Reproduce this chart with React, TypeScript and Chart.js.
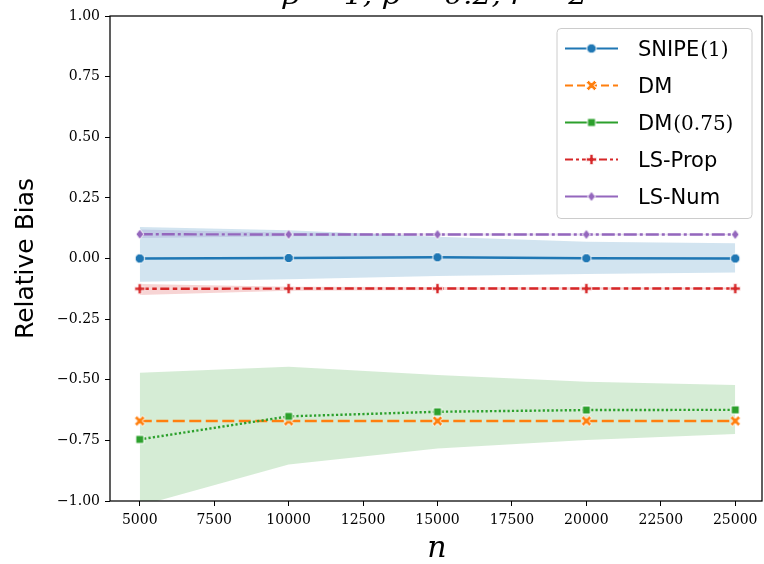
import React, { useEffect, useRef } from "react";
import { Chart, registerables } from "chart.js";

Chart.register(...registerables);

// ---------- data ----------
const nValues = [5000, 10000, 15000, 20000, 25000];
const xTicks = [5000, 7500, 10000, 12500, 15000, 17500, 20000, 22500, 25000];
const yTicks = [-1, -0.75, -0.5, -0.25, 0, 0.25, 0.5, 0.75, 1];
const seriesNames = ["SNIPE(1)", "DM", "DM(0.75)", "LS-Prop", "LS-Num"];
const titleText = "β = 1, p = 0.2, r = 2";
const xLabel = "n";
const yLabel = "Relative Bias";

const snipe = [0.0, 0.002, 0.005, 0.001, 0.0];
const snipeLow = [-0.096, -0.086, -0.072, -0.064, -0.058];
const snipeHigh = [0.13, 0.117, 0.09, 0.069, 0.063];

const dm = [-0.67, -0.67, -0.67, -0.67, -0.67];

const dm075 = [-0.746, -0.651, -0.632, -0.625, -0.624];
const dm075Low = [-1.02, -0.849, -0.783, -0.748, -0.724];
const dm075High = [-0.471, -0.446, -0.48, -0.508, -0.522];

const lsProp = [-0.125, -0.124, -0.124, -0.124, -0.124];
const lsPropLow = [-0.15, -0.133, -0.13, -0.129, -0.128];
const lsPropHigh = [-0.105, -0.116, -0.118, -0.119, -0.12];

const lsNum = [0.1, 0.099, 0.099, 0.099, 0.099];
const lsNumLow = [0.085, 0.092, 0.094, 0.095, 0.096];
const lsNumHigh = [0.12, 0.106, 0.104, 0.103, 0.102];

// ---------- styles ----------
const COLORS = ["#1f77b4", "#ff7f0e", "#2ca02c", "#d62728", "#9467bd"];
const DASHES: number[][] = [[], [12, 4.5], [2.2, 2.2], [9, 3.5, 4.5, 3.5], [13, 3, 3, 3]];
const LEGEND_DASHES: number[][] = [[], [8, 4], [], [8, 3, 3, 3], []];
const MARKERS = ["circle", "x", "square", "plus", "diamond"];
const MARKER_SIZES = [9.5, 11, 8, 10.5, 10];

function rgba(hex: string, a: number) {
  const n = parseInt(hex.slice(1), 16);
  return `rgba(${(n >> 16) & 255},${(n >> 8) & 255},${n & 255},${a})`;
}

function crossPoly(ctx: CanvasRenderingContext2D, r: number, a: number, rot: number) {
  const pts = [
    [-a, -1], [a, -1], [a, -a], [1, -a], [1, a], [a, a],
    [a, 1], [-a, 1], [-a, a], [-1, a], [-1, -a], [-a, -a],
  ];
  const c = Math.cos(rot), s = Math.sin(rot);
  pts.forEach(([px, py], i) => {
    const x = (px * c - py * s) * r;
    const y = (px * s + py * c) * r;
    if (i) ctx.lineTo(x, y);
    else ctx.moveTo(x, y);
  });
  ctx.closePath();
}

function makeMarker(kind: string, color: string, size: number) {
  const c = document.createElement("canvas");
  const dim = Math.ceil(size + 4);
  c.width = dim;
  c.height = dim;
  const ctx = c.getContext("2d")!;
  ctx.translate(dim / 2, dim / 2);
  const r = size / 2;
  ctx.beginPath();
  if (kind === "circle") ctx.arc(0, 0, r, 0, Math.PI * 2);
  else if (kind === "square") ctx.rect(-r, -r, 2 * r, 2 * r);
  else if (kind === "diamond") {
    ctx.moveTo(0, -r);
    ctx.lineTo(r * 0.8, 0);
    ctx.lineTo(0, r);
    ctx.lineTo(-r * 0.8, 0);
    ctx.closePath();
  } else if (kind === "plus") crossPoly(ctx, r, 0.32, 0);
  else crossPoly(ctx, r * 1.05, 0.3, Math.PI / 4);
  ctx.fillStyle = color;
  ctx.fill();
  ctx.strokeStyle = "#ffffff";
  ctx.lineWidth = 1;
  ctx.stroke();
  return c;
}

export default function App() {
  const ref = useRef<HTMLCanvasElement>(null);

  useEffect(() => {
    const canvas = ref.current!;
    const markers = MARKERS.map((m, i) => makeMarker(m, COLORS[i], MARKER_SIZES[i]));
    const series = [snipe, dm, dm075, lsProp, lsNum];
    const bands: [number[], number[], number][] = [
      [snipeLow, snipeHigh, 0],
      [dm075Low, dm075High, 2],
      [lsPropLow, lsPropHigh, 3],
      [lsNumLow, lsNumHigh, 4],
    ];
    const pts = (arr: number[]) => nValues.map((x, i) => ({ x, y: arr[i] }));

    const datasets: any[] = [];
    series.forEach((vals, i) =>
      datasets.push({
        label: seriesNames[i],
        data: pts(vals),
        borderColor: COLORS[i],
        backgroundColor: COLORS[i],
        borderWidth: 2.4,
        borderDash: DASHES[i],
        borderCapStyle: "butt",
        pointStyle: markers[i],
        pointRadius: 5,
        pointHoverRadius: 5,
        fill: false,
        tension: 0,
        order: 10 - i,
      })
    );
    bands.forEach(([lo, hi, ci]) => {
      datasets.push({
        label: "_lo",
        data: pts(lo),
        borderColor: "rgba(0,0,0,0)",
        borderWidth: 0,
        pointRadius: 0,
        fill: false,
        order: 50,
      });
      datasets.push({
        label: "_hi",
        data: pts(hi),
        borderColor: "rgba(0,0,0,0)",
        borderWidth: 0,
        pointRadius: 0,
        fill: "-1",
        backgroundColor: rgba(COLORS[ci], 0.2),
        order: 50,
      });
    });

    const textPlugin = {
      id: "texts",
      afterDraw(chart: any) {
        const { ctx, chartArea: a } = chart;
        ctx.save();
        // frame
        ctx.strokeStyle = "#000";
        ctx.lineWidth = 1.25;
        ctx.setLineDash([]);
        ctx.strokeRect(a.left, a.top, a.right - a.left, a.bottom - a.top);

        ctx.fillStyle = "#000";
        // title (mostly clipped at top, as in the reference)
        ctx.save();
        ctx.font = 'italic 24px "DejaVu Serif"';
        const tw = ctx.measureText(titleText).width;
        ctx.translate(435, 4);
        ctx.scale(304 / tw, 1);
        ctx.textAlign = "center";
        ctx.textBaseline = "alphabetic";
        ctx.fillText(titleText, 0, 0);
        ctx.restore();

        // y label
        ctx.save();
        ctx.font = '25px "DejaVu Sans"';
        ctx.translate(33, (a.top + a.bottom) / 2);
        ctx.rotate(-Math.PI / 2);
        ctx.textAlign = "center";
        ctx.textBaseline = "alphabetic";
        ctx.fillText(yLabel, 0, 0);
        ctx.restore();

        // x label
        ctx.font = 'italic 30px "DejaVu Serif"';
        ctx.textAlign = "center";
        ctx.textBaseline = "alphabetic";
        ctx.fillText(xLabel, 437, 557);

        // legend
        const lx = 557, ly = 28.5, lw = 195, lh = 190, rr = 4;
        ctx.beginPath();
        ctx.moveTo(lx + rr, ly);
        ctx.lineTo(lx + lw - rr, ly);
        ctx.quadraticCurveTo(lx + lw, ly, lx + lw, ly + rr);
        ctx.lineTo(lx + lw, ly + lh - rr);
        ctx.quadraticCurveTo(lx + lw, ly + lh, lx + lw - rr, ly + lh);
        ctx.lineTo(lx + rr, ly + lh);
        ctx.quadraticCurveTo(lx, ly + lh, lx, ly + lh - rr);
        ctx.lineTo(lx, ly + rr);
        ctx.quadraticCurveTo(lx, ly, lx + rr, ly);
        ctx.closePath();
        ctx.fillStyle = "rgba(255,255,255,0.8)";
        ctx.fill();
        ctx.strokeStyle = "#cccccc";
        ctx.lineWidth = 1;
        ctx.stroke();

        seriesNames.forEach((name, i) => {
          const y = 48.5 + 37 * i;
          ctx.beginPath();
          ctx.setLineDash(LEGEND_DASHES[i]);
          ctx.strokeStyle = COLORS[i];
          ctx.lineWidth = 2.2;
          ctx.moveTo(565, y);
          ctx.lineTo(618, y);
          ctx.stroke();
          ctx.setLineDash([]);
          const mk = markers[i];
          ctx.drawImage(mk, 591.5 - mk.width / 2, y - mk.height / 2);
          const m = name.match(/^([^(]*)(\(.*\))?$/);
          const main = m ? m[1] : name;
          const paren = m && m[2] ? m[2] : "";
          ctx.fillStyle = "#000";
          ctx.textAlign = "left";
          ctx.textBaseline = "alphabetic";
          ctx.font = '21px "DejaVu Sans"';
          ctx.fillText(main, 638, y + 7.7);
          if (paren) {
            const w = ctx.measureText(main).width;
            ctx.font = '20px "DejaVu Serif"';
            ctx.fillText(paren, 638 + w + 1, y + 7.7);
          }
        });
        ctx.restore();
      },
    };

    const tickFont = { family: "DejaVu Serif", size: 14 };
    const chart = new Chart(canvas, {
      type: "line",
      data: { datasets },
      options: {
        responsive: false,
        animation: false,
        devicePixelRatio: 1,
        events: [],
        layout: { autoPadding: false, padding: { top: 16, right: 2, left: 0, bottom: 0 } },
        plugins: {
          legend: { display: false },
          tooltip: { enabled: false },
          title: { display: false },
        },
        scales: {
          x: {
            type: "linear",
            min: 4000,
            max: 25900,
            afterBuildTicks: (s: any) => {
              s.ticks = xTicks.map((v) => ({ value: v }));
            },
            afterFit: (s: any) => {
              s.height = 63;
              s.paddingLeft = 0;
              s.paddingRight = 0;
            },
            grid: { drawOnChartArea: false, drawTicks: true, tickLength: 5, color: "#000", lineWidth: 1 },
            border: { display: false },
            ticks: {
              font: tickFont,
              color: "#000",
              padding: 6,
              maxRotation: 0,
              autoSkip: false,
              callback: (v: any) => String(v),
            },
          },
          y: {
            type: "linear",
            min: -1,
            max: 1,
            afterBuildTicks: (s: any) => {
              s.ticks = yTicks.map((v) => ({ value: v }));
            },
            afterFit: (s: any) => {
              s.width = 110;
              s.paddingTop = 0;
              s.paddingBottom = 0;
            },
            grid: { drawOnChartArea: false, drawTicks: true, tickLength: 5, color: "#000", lineWidth: 1 },
            border: { display: false },
            ticks: {
              font: tickFont,
              color: "#000",
              padding: 5,
              autoSkip: false,
              callback: (v: any) => (Number(v) < 0 ? "\u2212" : "") + Math.abs(Number(v)).toFixed(2),
            },
          },
        },
      } as any,
      plugins: [textPlugin],
    });
    return () => chart.destroy();
  }, []);

  return (
    <div
      style={{
        position: "fixed",
        left: 0,
        top: 0,
        width: 764,
        height: 564,
        overflow: "hidden",
        background: "#fff",
      }}
    >
      <canvas ref={ref} width={764} height={564} style={{ display: "block" }} />
    </div>
  );
}
